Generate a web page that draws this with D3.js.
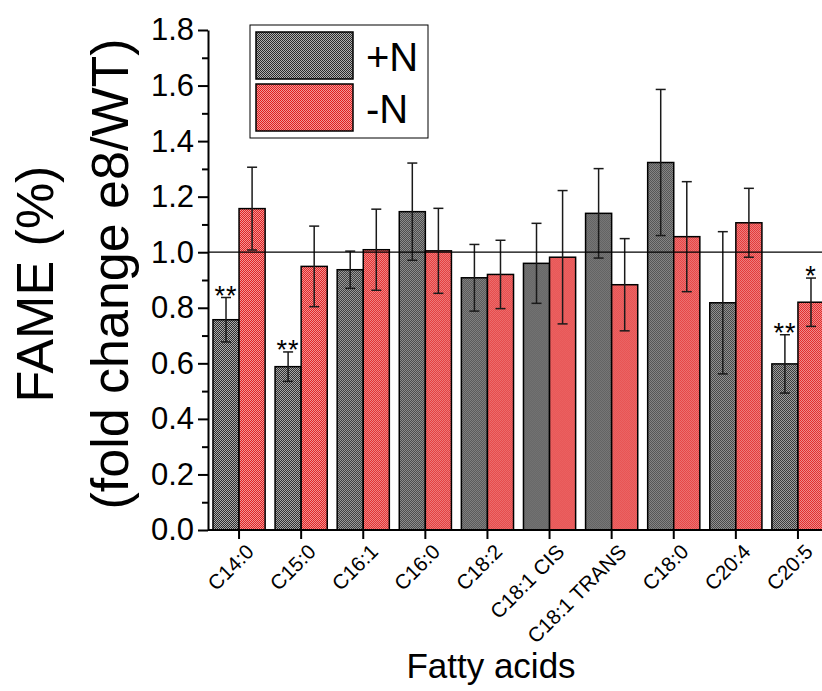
<!DOCTYPE html>
<html lang="en">
<head>
  <meta charset="UTF-8">
  <title>FAME fold change</title>
  <script src="https://d3js.org/d3.v7.min.js"></script>
  <style>
    body {
      margin: 0;
      background: white;
      font-family: "Liberation Sans", Arial, sans-serif;
    }
    svg {
      display: block;
    }
  </style>
</head>
<body>
<svg width="822" height="691"></svg>

<script>
  // data
  const categories = ["C14:0", "C15:0", "C16:1", "C16:0", "C18:2", "C18:1 CIS", "C18:1 TRANS", "C18:0", "C20:4", "C20:5"];
  const seriesNames = ["+N", "-N"];
  const plusN = [0.757, 0.588, 0.937, 1.146, 0.908, 0.960, 1.140, 1.323, 0.818, 0.598];
  const plusNErr = [0.080, 0.053, 0.067, 0.175, 0.120, 0.144, 0.161, 0.263, 0.256, 0.105];
  const minusN = [1.157, 0.949, 1.009, 1.005, 0.920, 0.982, 0.883, 1.056, 1.106, 0.820];
  const minusNErr = [0.149, 0.145, 0.146, 0.153, 0.123, 0.240, 0.166, 0.198, 0.124, 0.087];
  const sigPlus = ["**", "**", "", "", "", "", "", "", "", "**"];
  const sigMinus = ["", "", "", "", "", "", "", "", "", "*"];
  const yTicks = [0, 0.2, 0.4, 0.6, 0.8, 1.0, 1.2, 1.4, 1.6, 1.8];
  const yMinorTicks = [0.1, 0.3, 0.5, 0.7, 0.9, 1.1, 1.3, 1.5, 1.7];

  const rows = categories.map((c, i) => ({
    cat: c,
    vals: [
      { s: "+N", v: plusN[i], e: plusNErr[i], sig: sigPlus[i] },
      { s: "-N", v: minusN[i], e: minusNErr[i], sig: sigMinus[i] }
    ]
  }));

  const svg = d3.select("svg");
  const font = "'Liberation Sans', Arial, sans-serif";

  const plotLeft = 208, plotTop = 30, plotBottom = 530, step = 62.1;

  // checkered fills, like the dithered fills of the original plot
  const defs = svg.append("defs");
  const fills = { "+N": ["#2a2a2a", "#b0b0b0"], "-N": ["#e01e1e", "#f29a9a"] };
  Object.entries(fills).forEach(([k, c], i) => {
    const p = defs.append("pattern")
      .attr("id", "pat" + i)
      .attr("width", 2).attr("height", 2)
      .attr("patternUnits", "userSpaceOnUse");
    p.append("rect").attr("width", 2).attr("height", 2).attr("fill", c[1]);
    p.append("rect").attr("width", 1).attr("height", 1).attr("fill", c[0]);
    p.append("rect").attr("x", 1).attr("y", 1).attr("width", 1).attr("height", 1).attr("fill", c[0]);
  });
  const fillOf = s => s === "+N" ? "url(#pat0)" : "url(#pat1)";

  const x = d3.scaleBand()
    .domain(categories)
    .range([plotLeft, plotLeft + step * categories.length])
    .paddingInner(0.16)
    .paddingOuter(0.08);

  const xs = d3.scaleBand()
    .domain(seriesNames)
    .range([0, x.bandwidth()]);

  const y = d3.scaleLinear()
    .domain([0, 1.8])
    .range([plotBottom, plotTop]);

  // bars
  const groups = svg.append("g")
    .selectAll("g")
    .data(rows)
    .join("g")
    .attr("transform", d => `translate(${x(d.cat)},0)`);

  groups.selectAll("rect")
    .data(d => d.vals)
    .join("rect")
    .attr("x", d => xs(d.s))
    .attr("y", d => y(d.v))
    .attr("width", xs.bandwidth())
    .attr("height", d => y(0) - y(d.v))
    .attr("fill", d => fillOf(d.s))
    .attr("stroke", "#000")
    .attr("stroke-width", 1.5);

  // reference line at 1.0
  svg.append("line")
    .attr("x1", plotLeft).attr("x2", 822)
    .attr("y1", y(1)).attr("y2", y(1))
    .attr("stroke", "#000")
    .attr("stroke-width", 1.2);

  // error bars
  const eb = groups.selectAll("g.err")
    .data(d => d.vals)
    .join("g")
    .attr("class", "err")
    .attr("transform", d => `translate(${xs(d.s) + xs.bandwidth() / 2},0)`)
    .attr("stroke", "#1a1a1a")
    .attr("stroke-width", 1.5);
  eb.append("line")
    .attr("y1", d => y(d.v + d.e)).attr("y2", d => y(d.v - d.e));
  eb.append("line")
    .attr("x1", -5).attr("x2", 5)
    .attr("y1", d => y(d.v + d.e)).attr("y2", d => y(d.v + d.e));
  eb.append("line")
    .attr("x1", -5).attr("x2", 5)
    .attr("y1", d => y(d.v - d.e)).attr("y2", d => y(d.v - d.e));

  // significance stars
  groups.selectAll("text.sig")
    .data(d => d.vals.filter(v => v.sig))
    .join("text")
    .attr("class", "sig")
    .attr("x", d => xs(d.s) + xs.bandwidth() / 2)
    .attr("y", d => y(d.v + d.e) + 7)
    .attr("text-anchor", "middle")
    .attr("font-family", font)
    .attr("font-size", 27)
    .attr("letter-spacing", 1)
    .text(d => d.sig);

  // y axis
  const yAxis = svg.append("g")
    .attr("transform", `translate(${plotLeft},0)`)
    .call(d3.axisLeft(y).tickValues(yTicks).tickFormat(d3.format(".1f")).tickSize(10).tickSizeOuter(0).tickPadding(4));
  yAxis.selectAll(".tick text")
    .attr("font-family", font)
    .attr("font-size", 31)
    .attr("fill", "#000");
  yAxis.selectAll(".tick line").attr("stroke-width", 2);
  yAxis.select(".domain").attr("stroke-width", 2);

  svg.append("g")
    .attr("transform", `translate(${plotLeft},0)`)
    .call(d3.axisLeft(y).tickValues(yMinorTicks).tickFormat("").tickSize(6).tickSizeOuter(0))
    .call(g => g.select(".domain").remove())
    .selectAll(".tick line").attr("stroke-width", 2);

  // x axis
  const xAxis = svg.append("g")
    .attr("transform", `translate(0,${plotBottom})`)
    .call(d3.axisBottom(x).tickSize(9).tickSizeOuter(0));
  xAxis.select(".domain").attr("d", `M${plotLeft},0H822`).attr("stroke-width", 2);
  xAxis.selectAll(".tick line").attr("stroke-width", 2);
  xAxis.selectAll(".tick text")
    .attr("font-family", font)
    .attr("font-size", 20.5)
    .attr("fill", "#000")
    .attr("text-anchor", "end")
    .attr("x", 0).attr("y", 0).attr("dy", 0)
    .attr("transform", "translate(16,23) rotate(-45)");

  // axis titles
  const yMid = (plotTop + plotBottom) / 2;
  svg.append("text")
    .attr("transform", `translate(53,${yMid + 4}) rotate(-90)`)
    .attr("text-anchor", "middle")
    .attr("font-family", font)
    .attr("font-size", 52)
    .text("FAME (%)");
  svg.append("text")
    .attr("transform", `translate(128,${yMid - 6}) rotate(-90)`)
    .attr("text-anchor", "middle")
    .attr("font-family", font)
    .attr("font-size", 52)
    .text("(fold change e8/WT)");

  svg.append("text")
    .attr("x", 491)
    .attr("y", 678)
    .attr("text-anchor", "middle")
    .attr("font-family", font)
    .attr("font-size", 35)
    .text("Fatty acids");

  // legend
  const legend = svg.append("g").attr("transform", "translate(250,25)");
  legend.append("rect")
    .attr("width", 178).attr("height", 113)
    .attr("fill", "white")
    .attr("stroke", "#000")
    .attr("stroke-width", 1);
  const li = legend.selectAll("g.item")
    .data(seriesNames)
    .join("g")
    .attr("class", "item")
    .attr("transform", (d, i) => `translate(6,${7 + i * 52})`);
  li.append("rect")
    .attr("width", 97).attr("height", 47)
    .attr("fill", d => fillOf(d))
    .attr("stroke", "#000")
    .attr("stroke-width", 1.5);
  li.append("text")
    .attr("x", 110)
    .attr("y", 39)
    .attr("font-family", font)
    .attr("font-size", 40)
    .text(d => d);
</script>

</body>
</html>
